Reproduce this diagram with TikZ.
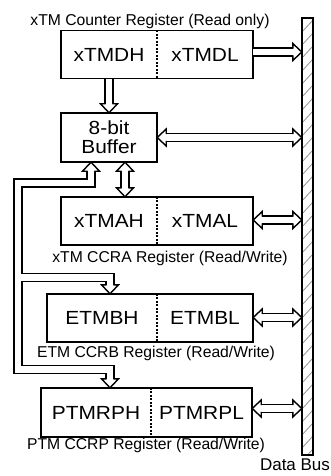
\documentclass[tikz,border=0pt]{standalone}
\usepackage{fontspec}
\usepackage{graphicx}
\setmainfont{Liberation Sans}
\usetikzlibrary{calc}
\newcommand\wtxt[1]{\scalebox{1.1}[1]{#1}}
\newcommand\ahead[2]{\begin{scope}[shift={(#1)},rotate=#2]
  \fill[white] (0,0) -- (-9,8.5) -- (-9,-8.5) -- cycle;
  \draw[line width=1.4pt, line join=miter] (-9,3.3) -- (-9,8.5) -- (0,0) -- (-9,-8.5) -- (-9,-3.3);
\end{scope}}
\begin{document}
\begin{tikzpicture}[x=1pt,y=1pt,
  half/.style={inner sep=0pt, minimum height=48pt, font=\fontsize{19}{20}\selectfont},
  boxline/.style={line width=1.5pt},
  divider/.style={line width=2pt, dash pattern=on 2pt off 1.5pt},
  lbl/.style={inner sep=0pt, font=\fontsize{15.7}{17}\selectfont},
  shaft/.style={double=white, double distance=6.3pt, line width=1.4pt, line join=miter},
  hatch/.style={gray!85, line width=0.8pt}]
\useasboundingbox (0,0) rectangle (331,-476);

% register nodes
\node[half, minimum width=96pt] (dh) at (109,-54.5) {\wtxt{xTMDH}};
\node[half, minimum width=96pt] (dl) at (205,-54.5) {\wtxt{xTMDL}};
\node[half, minimum width=96pt, minimum height=49pt, align=center, font=\fontsize{19}{19}\selectfont] (buf) at (109,-137.5) {\wtxt{8-bit}\\\wtxt{Buffer}};
\node[half, minimum width=96pt] (ah) at (109,-221) {\wtxt{xTMAH}};
\node[half, minimum width=96pt] (al) at (205,-221) {\wtxt{xTMAL}};
\node[half, minimum width=110pt] (bh) at (102,-318) {\wtxt{ETMBH}};
\node[half, minimum width=96pt] (bl) at (205,-318) {\wtxt{ETMBL}};
\node[half, minimum width=110pt, minimum height=49pt] (ph) at (96,-412.5) {\wtxt{PTMRPH}};
\node[half, minimum width=101pt, minimum height=49pt] (pl) at (201.5,-412.5) {\wtxt{PTMRPL}};
\node[inner sep=0pt, minimum width=11pt, minimum height=437pt] (bus) at (307.5,-236.5) {};

% labels
\node[lbl] (t0) at (150,-21) {xTM Counter Register (Read only)};
\node[lbl] (t1) at (170,-258) {xTM CCRA Register (Read/Write)};
\node[lbl] (t2) at (156,-353) {ETM CCRB Register (Read/Write)};
\node[lbl] (t3) at (146,-445) {PTM CCRP Register (Read/Write)};
\node[inner sep=0pt, font=\fontsize{17}{18}\selectfont] (t4) at (295,-465) {Data Bus};

% boxes
\draw[boxline] (dh.north west) rectangle (dl.south east);
\draw[divider] (dh.north east) -- (dh.south east);
\draw[boxline] (buf.north west) rectangle (buf.south east);
\draw[boxline] (ah.north west) rectangle (al.south east);
\draw[divider] (ah.north east) -- (ah.south east);
\draw[boxline] (bh.north west) rectangle (bl.south east);
\draw[divider] (bh.north east) -- (bh.south east);
\draw[boxline] (ph.north west) rectangle (pl.south east);
\draw[divider] (ph.north east) -- (ph.south east);

% data bus
\begin{scope}
  \clip (bus.south west) rectangle (bus.north east);
  \foreach \k in {0,...,35} \draw[hatch] ([yshift=\k*13pt-6pt]bus.south west) -- ++(11,12);
\end{scope}
\draw[line width=1.5pt] (bus.south west) rectangle (bus.north east);

% arrows to the bus
\path ([yshift=2.5pt]dl.east) coordinate (s1) (bus.west |- s1) coordinate (e1);
\draw[shaft] (s1) -- ([xshift=-9pt]e1);
\ahead{e1}{0}

\coordinate (s2) at (buf.east);
\path (bus.west |- s2) coordinate (e2);
\draw[shaft] ([xshift=9pt]s2) -- ([xshift=-9pt]e2);
\ahead{e2}{0}\ahead{s2}{180}

\path ([yshift=1pt]al.east) coordinate (s3) (bus.west |- s3) coordinate (e3);
\draw[shaft] ([xshift=9pt]s3) -- ([xshift=-9pt]e3);
\ahead{e3}{0}\ahead{s3}{180}

\path ([yshift=0.5pt]bl.east) coordinate (s4) (bus.west |- s4) coordinate (e4);
\draw[shaft] ([xshift=9pt]s4) -- ([xshift=-9pt]e4);
\ahead{e4}{0}\ahead{s4}{180}

\path ([yshift=4pt]pl.east) coordinate (s5) (bus.west |- s5) coordinate (e5);
\draw[shaft] ([xshift=9pt]s5) -- ([xshift=-9pt]e5);
\ahead{e5}{0}\ahead{s5}{180}

% counter to buffer
\draw[shaft] (dh.south) -- ([yshift=9pt]buf.north);
\ahead{buf.north}{-90}

% buffer <-> CCRA
\path ([xshift=16pt]buf.south) coordinate (ba) (ba |- ah.north) coordinate (ab);
\draw[shaft] ([yshift=-9pt]ba) -- ([yshift=9pt]ab);
\ahead{ba}{90}\ahead{ab}{-90}

% feedback paths to CCRB and CCRP
\path ([xshift=-18pt]buf.south) coordinate (fb)
      ([xshift=14pt]ph.north) coordinate (pin)
      ([xshift=8pt]bh.north) coordinate (bin);
\coordinate (k1) at (18,-183);
\coordinate (k2) at (18,-369.5);
\coordinate (k3) at (21.3,-277.5);
\draw[shaft] ([yshift=-9pt]fb) |- (k1) -- (k2) -| ([yshift=9pt]pin);
\draw[shaft] (k3) -| ([yshift=9pt]bin);
\ahead{fb}{90}
\ahead{pin}{-90}
\ahead{bin}{-90}
\end{tikzpicture}
\end{document}
